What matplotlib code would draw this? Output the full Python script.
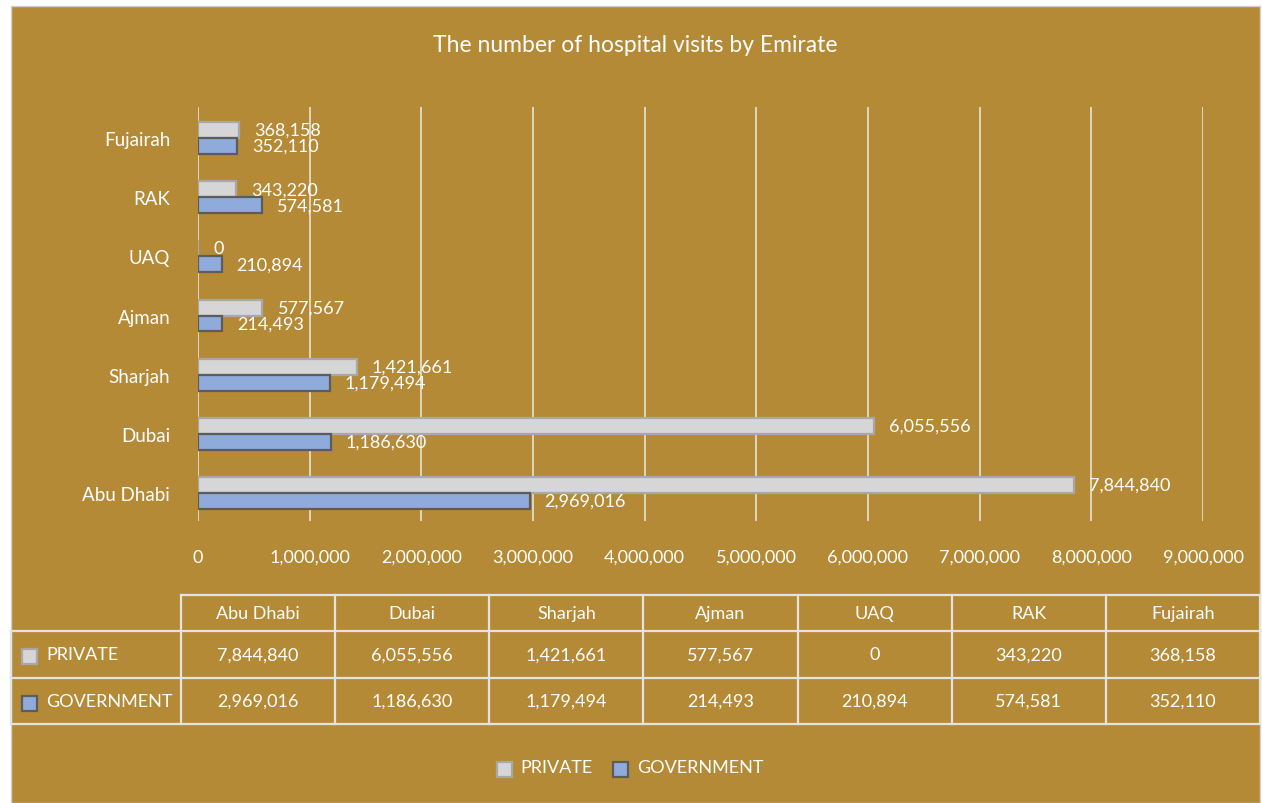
import matplotlib
matplotlib.use("Agg")
import matplotlib.pyplot as plt
from matplotlib.lines import Line2D
from matplotlib.patches import Rectangle
from matplotlib.ticker import FuncFormatter

plt.rcParams['font.family'] = ['Lato', 'DejaVu Sans']

categories = ["Abu Dhabi", "Dubai", "Sharjah", "Ajman", "UAQ", "RAK", "Fujairah"]
private = [7844840, 6055556, 1421661, 577567, 0, 343220, 368158]
government = [2969016, 1186630, 1179494, 214493, 210894, 574581, 352110]
series_names = ["PRIVATE", "GOVERNMENT"]
title = "The number of hospital visits by Emirate"

BG = "#B58A36"
PRIV_FC, PRIV_EC = "#D6D6D6", "#A8A8A8"
GOV_FC, GOV_EC = "#8EABDC", "#5C5C5C"
GRID = "#E2DCCB"
TXT = "white"

W, H = 1262, 804
fig = plt.figure(figsize=(W / 100, H / 100), dpi=100)
fig.patch.set_facecolor("white")

def fx(px):
    return px / W

def fy(py):
    return 1 - py / H

# outer panel
fig.patches.append(Rectangle((fx(11), fy(804)), fx(1260) - fx(11), fy(7) - fy(804),
                             transform=fig.transFigure, facecolor=BG,
                             edgecolor="#D0D0D0", linewidth=1.0, zorder=-5))

fig.text(fx(635), fy(46), title, ha="center", va="center", color=TXT, fontsize=16.5)

ax = fig.add_axes([fx(198), fy(522), fx(1203) - fx(198), fy(108) - fy(522)])
ax.set_zorder(2)
ax.set_facecolor("none")
ypos = list(range(len(categories)))
h = 0.27
ax.barh([y + h / 2 for y in ypos], private, height=h, color=PRIV_FC, edgecolor=PRIV_EC,
        linewidth=1.6, zorder=3)
ax.barh([y - h / 2 for y in ypos], government, height=h, color=GOV_FC, edgecolor=GOV_EC,
        linewidth=1.6, zorder=3)
ax.set_xlim(0, 9000000)
ax.set_ylim(-0.473, 6.524)
ax.set_xticks(range(0, 9000001, 1000000))
ax.xaxis.set_major_formatter(FuncFormatter(lambda v, p: f"{int(v):,}"))
ax.set_yticks(ypos)
ax.set_yticklabels(categories)
ax.tick_params(axis="both", length=0, colors=TXT, labelsize=13)
ax.tick_params(axis="y", labelsize=13.5, pad=20)
ax.tick_params(axis="x", pad=20)
for s in ax.spines.values():
    s.set_visible(False)
ax.grid(axis="x", color=GRID, linewidth=1.3, zorder=1)
ax.set_axisbelow(True)

xscale = 9000000 / (1203 - 198)
off = 15 * xscale
for y, v in zip(ypos, private):
    ax.text(v + off, y + h / 2, f"{v:,}", va="center", ha="left", color=TXT, fontsize=13, zorder=4)
for y, v in zip(ypos, government):
    ax.text(v + off, y - h / 2, f"{v:,}", va="center", ha="left", color=TXT, fontsize=13, zorder=4)

# data table
LC = "#E3E3E3"
lw = 1.6
col_edges = [181 + i * (1260 - 181) / 7 for i in range(8)]
rows = [596, 632, 679, 725]

def hline(x0, x1, y):
    fig.lines.append(Line2D([fx(x0), fx(x1)], [fy(y), fy(y)], transform=fig.transFigure,
                            color=LC, linewidth=lw, zorder=5))

def vline(x, y0, y1):
    fig.lines.append(Line2D([fx(x), fx(x)], [fy(y0), fy(y1)], transform=fig.transFigure,
                            color=LC, linewidth=lw, zorder=5))

hline(181, 1260, rows[0])
hline(11, 1260, rows[1])
hline(11, 1260, rows[2])
hline(11, 1260, rows[3])
for x in col_edges:
    vline(x, rows[0], rows[3])
vline(11, rows[1], rows[3])

for i, c in enumerate(categories):
    cx = (col_edges[i] + col_edges[i + 1]) / 2
    fig.text(fx(cx), fy((rows[0] + rows[1]) / 2), c, ha="center", va="center", color=TXT, fontsize=13)
    fig.text(fx(cx), fy((rows[1] + rows[2]) / 2), f"{private[i]:,}", ha="center", va="center",
             color=TXT, fontsize=13)
    fig.text(fx(cx), fy((rows[2] + rows[3]) / 2), f"{government[i]:,}", ha="center", va="center",
             color=TXT, fontsize=13)

def swatch(x, y, fc, ec):
    s = 15
    fig.patches.append(Rectangle((fx(x), fy(y + s / 2)), fx(s), s / H, transform=fig.transFigure,
                                 facecolor=fc, edgecolor=ec, linewidth=1.6, zorder=6))

for r, (name, fc, ec) in enumerate(zip(series_names, [PRIV_FC, GOV_FC], [PRIV_EC, GOV_EC])):
    yc = (rows[1 + r] + rows[2 + r]) / 2 + 2
    swatch(22, yc, fc, ec)
    fig.text(fx(46), fy(yc - 2), name, ha="left", va="center", color=TXT, fontsize=13)

# legend
swatch(497, 770, PRIV_FC, PRIV_EC)
fig.text(fx(520), fy(768), series_names[0], ha="left", va="center", color=TXT, fontsize=13)
swatch(613, 770, GOV_FC, GOV_EC)
fig.text(fx(637), fy(768), series_names[1], ha="left", va="center", color=TXT, fontsize=13)

fig.savefig("out.png", dpi=100, facecolor=fig.get_facecolor())
